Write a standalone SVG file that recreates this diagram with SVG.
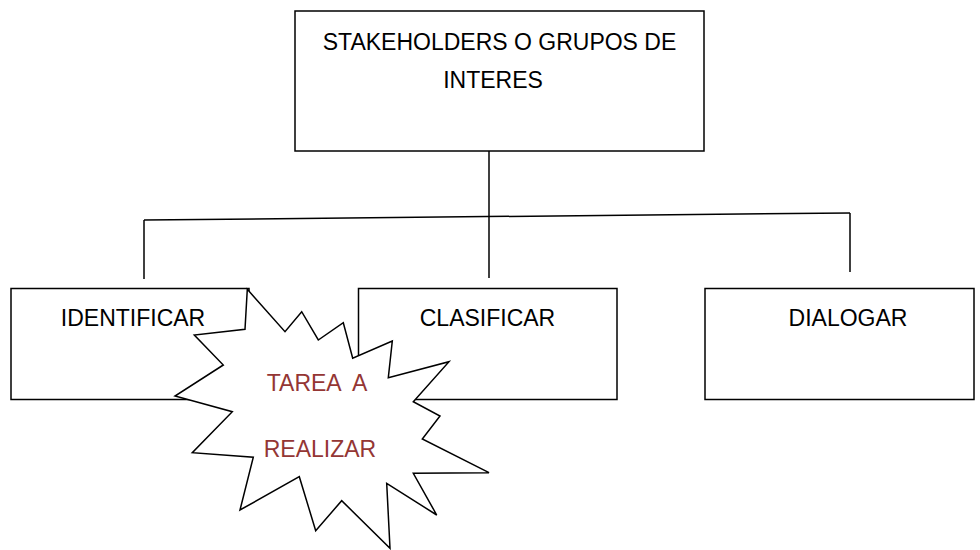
<svg xmlns="http://www.w3.org/2000/svg" width="980" height="550" viewBox="0 0 980 550">
<style>
.box{fill:#fff;stroke:#000;stroke-width:1.5}
.lbl{font-family:"Liberation Sans",Arial,sans-serif;font-size:23px;fill:#000;text-anchor:middle}
.red{font-family:"Liberation Sans",Arial,sans-serif;font-size:23px;fill:#943634;text-anchor:middle}
.conn{stroke:#000;stroke-width:1.5;fill:none}
</style>
<rect width="980" height="550" fill="#fff"/>
<g id="connectors">
<line class="conn" x1="489" y1="151" x2="489" y2="278"/>
<line class="conn" x1="144" y1="220" x2="850" y2="213"/>
<line class="conn" x1="144" y1="220" x2="144" y2="279"/>
<line class="conn" x1="850" y1="213" x2="850" y2="272"/>
</g>
<g id="node-stakeholders">
<rect class="box" x="295" y="11" width="409" height="140"/>
<text class="lbl" x="499.5" y="50">STAKEHOLDERS O GRUPOS DE</text>
<text class="lbl" x="493" y="88">INTERES</text>
</g>
<g id="node-identificar">
<rect class="box" x="11" y="288.5" width="238" height="111"/>
<text class="lbl" x="133" y="326">IDENTIFICAR</text>
</g>
<g id="node-clasificar">
<rect class="box" x="358.5" y="288.5" width="258.5" height="111"/>
<text class="lbl" x="487.5" y="326">CLASIFICAR</text>
</g>
<g id="node-dialogar">
<rect class="box" x="705" y="288.5" width="269" height="111"/>
<text class="lbl" x="848" y="326">DIALOGAR</text>
</g>
<g id="node-tarea">
<polygon class="box" points="247.3,289.3 285,331.7 301.7,311.7 318.3,340 343.3,322.7 352.7,358.3 392.3,341 388.3,377.7 449,361.7 413.3,401.7 440,416 422.3,439 489,472.7 413.3,473.3 436.7,515 386.7,483.3 390,548.3 341.7,500.7 315.7,530.7 299.3,476.7 240,510 253.3,457.3 192.3,452.7 232.3,411.7 175,396 223.3,365 194.3,335 245,329.3"/>
<text class="red" x="317" y="390.5" xml:space="preserve">TAREA  A</text>
<text class="red" x="320" y="457">REALIZAR</text>
</g>
</svg>
